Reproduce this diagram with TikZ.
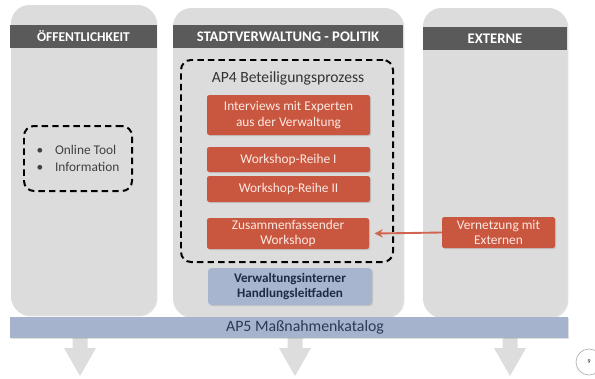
\documentclass[tikz,border=0pt]{standalone}
\usepackage{fontspec}
\setmainfont{Carlito}
\usepackage{tikz}
\usetikzlibrary{positioning, arrows.meta, fit, shadows}

\definecolor{colgray}{HTML}{DCDCDC}
\definecolor{headgray}{HTML}{5A5A5A}
\definecolor{redfill}{HTML}{C9573F}
\definecolor{redtext}{HTML}{FCE9E3}
\definecolor{bluefill}{HTML}{A8B5CE}
\definecolor{bluetext}{HTML}{1F2A44}
\definecolor{barfill}{HTML}{A5B3CC}
\definecolor{bartext}{HTML}{2B3A55}
\definecolor{arrowgray}{HTML}{DDDDDD}
\definecolor{linkred}{HTML}{D0644E}

\begin{document}
\begin{tikzpicture}[
    x=0.03cm, y=-0.03cm,
    every node/.style={inner sep=0pt},
    column/.style={fill=colgray, rounded corners=0.55cm, drop shadow={shadow xshift=1.2pt, shadow yshift=-1.2pt, opacity=0.25}},
    header/.style={fill=headgray, text=white, minimum height=0.69cm, font=\fontsize{12.5}{14}\selectfont\bfseries},
    dashbox/.style={draw=black, line width=1.7pt, dash pattern=on 5.5pt off 3.5pt, rounded corners=0.3cm},
    redbox/.style={fill=redfill, rounded corners=2pt, text=redtext, align=center, font=\fontsize{11.4}{13}\selectfont, drop shadow={shadow xshift=1pt, shadow yshift=-1pt, opacity=0.25}},
    bluebox/.style={fill=bluefill, rounded corners=3pt, text=bluetext, align=center, font=\fontsize{11.2}{13}\selectfont\bfseries, drop shadow={shadow xshift=1pt, shadow yshift=-1pt, opacity=0.25}},
    link/.style={draw=linkred, line width=1.6pt, -{Stealth[length=7pt, width=7pt]}}
]
\useasboundingbox (0,0) rectangle (595,378);

% columns
\node[column, fit={(11,5) (156,315)}] (colA) {};
\node[column, fit={(173,8) (403,317)}] (colB) {};
\node[column, fit={(423,8) (567,317)}] (colC) {};

\node[header, minimum width=4.41cm, font=\fontsize{11.5}{14}\selectfont\bfseries] (headA) at (83.5,36.5) {ÖFFENTLICHKEIT};
\node[header, minimum width=6.9cm] (headB) at (288,36.5) {STADTVERWALTUNG - POLITIK};
\node[header, minimum width=4.32cm] (headC) at (495,38.5) {EXTERNE};

% Oeffentlichkeit
\node[dashbox, minimum width=3.24cm, minimum height=1.95cm, align=left, text=black!75, font=\fontsize{11.4}{15}\selectfont] (online) at (78,158.5)
    {•\hspace{10pt}Online Tool\\ •\hspace{10pt}Information};

% AP4
\node[dashbox, minimum width=6.36cm, minimum height=6.06cm] (ap4box) at (287,161) {};
\node[text=black!80, font=\fontsize{13.3}{15}\selectfont] (ap4) at (288,78) {AP4 Beteiligungsprozess};
\node[redbox, minimum width=4.89cm, minimum height=1.2cm] (interviews) at (288.5,115) {Interviews mit Experten\\aus der Verwaltung};
\node[redbox, minimum width=4.89cm, minimum height=0.75cm] (reihe1) at (288.5,159.5) {Workshop-Reihe I};
\node[redbox, minimum width=4.89cm, minimum height=0.78cm] (reihe2) at (288.5,189) {Workshop-Reihe II};
\node[redbox, minimum width=4.86cm, minimum height=0.93cm] (zusammen) at (288,233.5) {Zusammenfassender\\Workshop};
\node[bluebox, minimum width=4.92cm, minimum height=1.11cm] (leitfaden) at (290,286.5) {Verwaltungsinterner\\Handlungsleitfaden};

% Externe
\node[redbox, minimum width=3.39cm, minimum height=0.93cm] (vernetzung) at (498.5,232.5) {Vernetzung mit\\Externen};
\draw[link] (vernetzung.west) -- ([xshift=4.5pt]zusammen.east);

% AP5
\foreach \cx in {80,295,510}
    \fill[arrowgray] (\cx-7.5,337) -- (\cx+7.5,337) -- (\cx+7.5,348) -- (\cx+16,348)
        -- (\cx,376) -- (\cx-16,348) -- (\cx-7.5,348) -- cycle;
\node[fill=barfill, minimum width=16.74cm, minimum height=0.63cm, drop shadow={shadow xshift=1pt, shadow yshift=-1pt, opacity=0.25}] (ap5) at (289,327.5) {};
\node[text=bartext, font=\fontsize{13.5}{15}\selectfont] (ap5text) at (305,327.5) {AP5 Maßnahmenkatalog};

% page number
\node[circle, draw=gray!60, line width=0.6pt, minimum size=0.78cm, font=\tiny] (page) at (589,362) {9};
\end{tikzpicture}
\end{document}
